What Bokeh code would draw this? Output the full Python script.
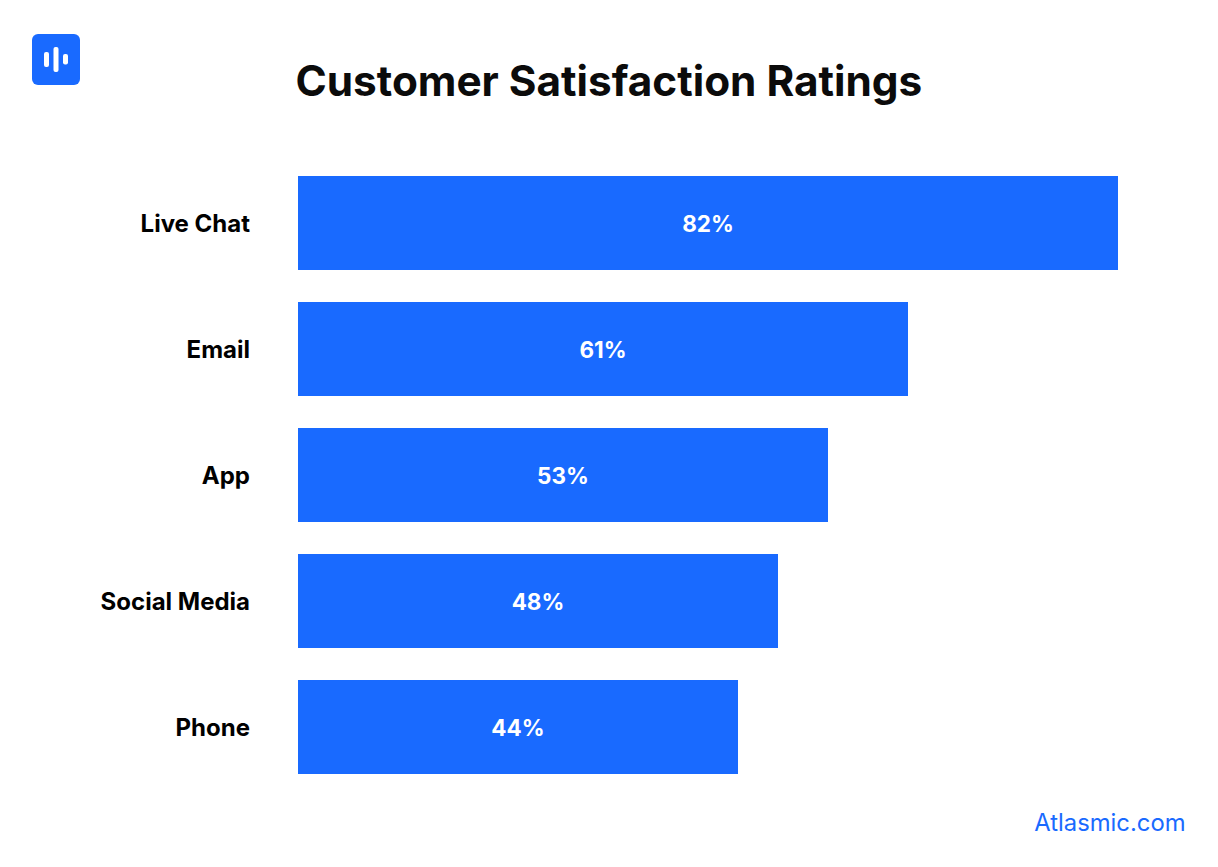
from bokeh.plotting import figure
from bokeh.models import Range1d, Label, BoxAnnotation, ColumnDataSource
from bokeh.core.properties import value
from bokeh.embed import file_html
from bokeh.resources import INLINE

categories = ["Live Chat", "Email", "App", "Social Media", "Phone"]
ratings = [82, 61, 53, 48, 44]
rating_labels = ["82%", "61%", "53%", "48%", "44%"]
chart_title = "Customer Satisfaction Ratings"
source_text = "Atlasmic.com"
BLUE = "#196AFF"
FONT = "Inter"

W, H = 1210, 859
PX_PER_PCT = 10
ROW = 126
X0 = 297.5
Y0 = 222.5
rows = list(range(len(categories)))
src = ColumnDataSource(dict(row=rows, zero=[0] * len(rows), val=ratings,
                            mid=[v / 2 for v in ratings], lab=rating_labels, cat=categories))

p = figure(width=W, height=H, output_backend="svg", toolbar_location=None,
           x_range=Range1d(-X0 / PX_PER_PCT, (W - X0) / PX_PER_PCT),
           y_range=Range1d((H - Y0) / ROW, -Y0 / ROW),
           x_axis_location=None, y_axis_location=None, min_border=0, outline_line_color=None,
           background_fill_color="white", border_fill_color="white")
p.grid.visible = False

p.hbar(y="row", left=0, right="val", height=94 / ROW, source=src, fill_color=BLUE, line_color=None)
p.text(x="mid", y="row", text="lab", source=src, text_color="white", text_align="center",
       text_baseline="middle", text_font=value(FONT), text_font_size="22.5px", text_font_style="bold")
p.text(x="zero", y="row", text="cat", source=src, x_offset=-48, text_color="#000000", text_align="right",
       text_baseline="middle", text_font=value(FONT), text_font_size="24px", text_font_style="bold")

p.add_layout(Label(x=295, y=95 - 15, x_units="canvas", y_units="canvas", text=chart_title,
                   text_font=FONT, text_font_size="42.3px", text_font_style="bold", text_color="#0b0b0b",
                   text_align="left", text_baseline="alphabetic"))
p.add_layout(Label(x=1185, y=830 - 8, x_units="canvas", y_units="canvas", text=source_text,
                   text_font=FONT, text_font_size="23.8px", text_color=BLUE,
                   text_align="right", text_baseline="alphabetic"))

def box(l, r, t, b, color, radius):
    return BoxAnnotation(left=l, right=r, top=t, bottom=b,
                         left_units="canvas", right_units="canvas", top_units="canvas", bottom_units="canvas",
                         fill_color=color, fill_alpha=1, line_color=None, border_radius=radius, level="annotation")

p.add_layout(box(31.5, 79.5, 33.5, 84.5, BLUE, 6))
p.add_layout(box(43.5, 48.5, 51.5, 66.5, "white", 2))
p.add_layout(box(53, 58, 46.5, 71.5, "white", 2))
p.add_layout(box(62.5, 67.5, 53.5, 64, "white", 2))

open("out.html", "w").write(file_html(p, INLINE))
